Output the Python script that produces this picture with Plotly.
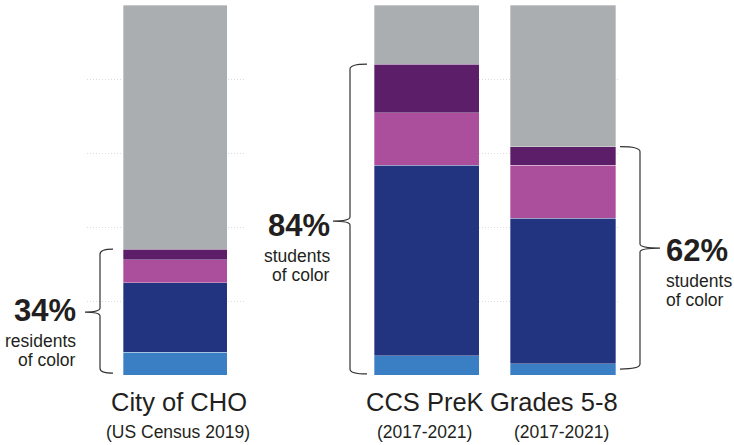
import plotly.graph_objects as go

# ---------------- data ----------------
city_cat = ["City of CHO"]
school_cats = ["CCS PreK", "Grades 5-8"]

groups = ["Asian", "Black", "Hispanic", "Multiracial", "White"]
colors = ["#3A7FC4", "#223480", "#AB4E9C", "#5C1E69", "#ABAEB1"]

city_values = {"Asian": [6.2], "Black": [18.8], "Hispanic": [6.1], "Multiracial": [2.9], "White": [66.0]}
school_values = {
    "Asian": [5.2, 3.1],
    "Black": [51.5, 39.3],
    "Hispanic": [14.2, 14.3],
    "Multiracial": [13.1, 5.0],
    "White": [16.0, 38.3],
}

pct_labels = ["34%", "84%", "62%"]
pct_sub1 = ["residents", "students", "students"]
pct_sub2 = ["of color", "of color", "of color"]
cat_titles = ["City of CHO", "CCS PreK", "Grades 5-8"]
cat_subs = ["(US Census 2019)", "(2017-2021)", "(2017-2021)"]

# ---------------- layout helpers ----------------
W, H = 734, 445
FONT = "Liberation Sans, Arial, sans-serif"
TXT = "#231F20"


def px_x(p):
    return p / W


def px_y(p):
    return 1 - p / H


Y_TOP_PX, Y_BOT_PX = 5, 375
ydom = [px_y(Y_BOT_PX), px_y(Y_TOP_PX)]
px_per_unit = (Y_BOT_PX - Y_TOP_PX) / 100.0

fig = go.Figure()

for g, c in zip(groups, colors):
    fig.add_trace(go.Bar(
        x=city_cat, y=city_values[g], name=g, marker_color=c,
        marker_line=dict(color="rgba(255,255,255,0.4)", width=0.8),
        width=1.0, xaxis="x", yaxis="y", showlegend=False, hoverinfo="skip",
    ))
    fig.add_trace(go.Bar(
        x=school_cats, y=school_values[g], name=g, marker_color=c,
        marker_line=dict(color="rgba(255,255,255,0.4)", width=0.8),
        width=0.77, xaxis="x2", yaxis="y2", showlegend=False, hoverinfo="skip",
    ))

grid = dict(showgrid=True, gridcolor="#dcdcdc", gridwidth=1, griddash="1px,2px",
            tickvals=[20, 40, 60, 80, 100], showticklabels=False, zeroline=False,
            showline=False, range=[0, 100], domain=ydom, ticks="")

fig.update_layout(
    width=W, height=H, margin=dict(l=0, r=0, t=0, b=0),
    paper_bgcolor="white", plot_bgcolor="rgba(0,0,0,0)",
    barmode="stack", bargap=0,
    xaxis=dict(domain=[px_x(87), px_x(244)], range=[-0.846, 0.663], showticklabels=False,
               showgrid=False, zeroline=False, showline=False, ticks=""),
    xaxis2=dict(domain=[px_x(374), px_x(620)], range=[-0.385, 1.418], showticklabels=False,
                showgrid=False, zeroline=False, showline=False, ticks=""),
    yaxis=dict(**grid),
    yaxis2=dict(**grid, anchor="x2"),
    font=dict(family=FONT, color=TXT),
)

# ---------------- braces ----------------
city_total = sum(city_values[g][0] for g in groups[:4])
school_totals = [sum(school_values[g][i] for g in groups[:4]) for i in range(2)]

braces = [
    # x_line, x_tip, x_point (px), y_lo, y_hi, y_mid (data)
    (100, 113, 85, 0.5, city_total, 17.0),
    (350, 367, 333, 0.3, school_totals[0], 41.6),
    (640, 620, 660, 1.6, school_totals[1], 34.3),
]
r = 5 / px_per_unit
rc = 4 / px_per_unit
for xl, xt, xp, ylo, yhi, ymid in braces:
    XL, XT, XP = px_x(xl), px_x(xt), px_x(xp)
    path = (
        f"M {XT},{yhi} Q {XL},{yhi} {XL},{yhi - r} "
        f"L {XL},{ymid + rc} Q {XL},{ymid} {XP},{ymid} "
        f"Q {XL},{ymid} {XL},{ymid - rc} "
        f"L {XL},{ylo + r} Q {XL},{ylo} {XT},{ylo}"
    )
    fig.add_shape(type="path", path=path, xref="paper", yref="y",
                  line=dict(color="#333333", width=1.2))

# ---------------- annotations ----------------
ann = []


def add_text(text, x, y, size, anchor, bold=False):
    ann.append(dict(
        text=f"<b>{text}</b>" if bold else text,
        x=px_x(x), y=px_y(y), xref="paper", yref="paper",
        xanchor=anchor, yanchor="middle", showarrow=False, borderpad=0,
        font=dict(family=FONT, size=size, color=TXT),
    ))


pct_pos = [(77, 310, "right"), (331, 225, "right"), (665, 250, "left")]
for (x, yc, a), big, s1, s2 in zip(pct_pos, pct_labels, pct_sub1, pct_sub2):
    add_text(big, x, yc, 31, a, bold=True)
    add_text(s1, x, yc + 31, 17.5, a)
    add_text(s2, x, yc + 50, 17.5, a)

title_x = [178.5, 425, 554]
sub_x = [177.5, 425, 561]
for t, s, tx, sx in zip(cat_titles, cat_subs, title_x, sub_x):
    add_text(t, tx, 402, 25.5, "center")
    add_text(s, sx, 432, 17.5, "center")

fig.update_layout(annotations=ann)

fig.write_html(
    "out.html",
    config={"displayModeBar": False, "staticPlot": True},
    post_script="document.body.style.margin='0';document.body.style.overflow='hidden';",
)
